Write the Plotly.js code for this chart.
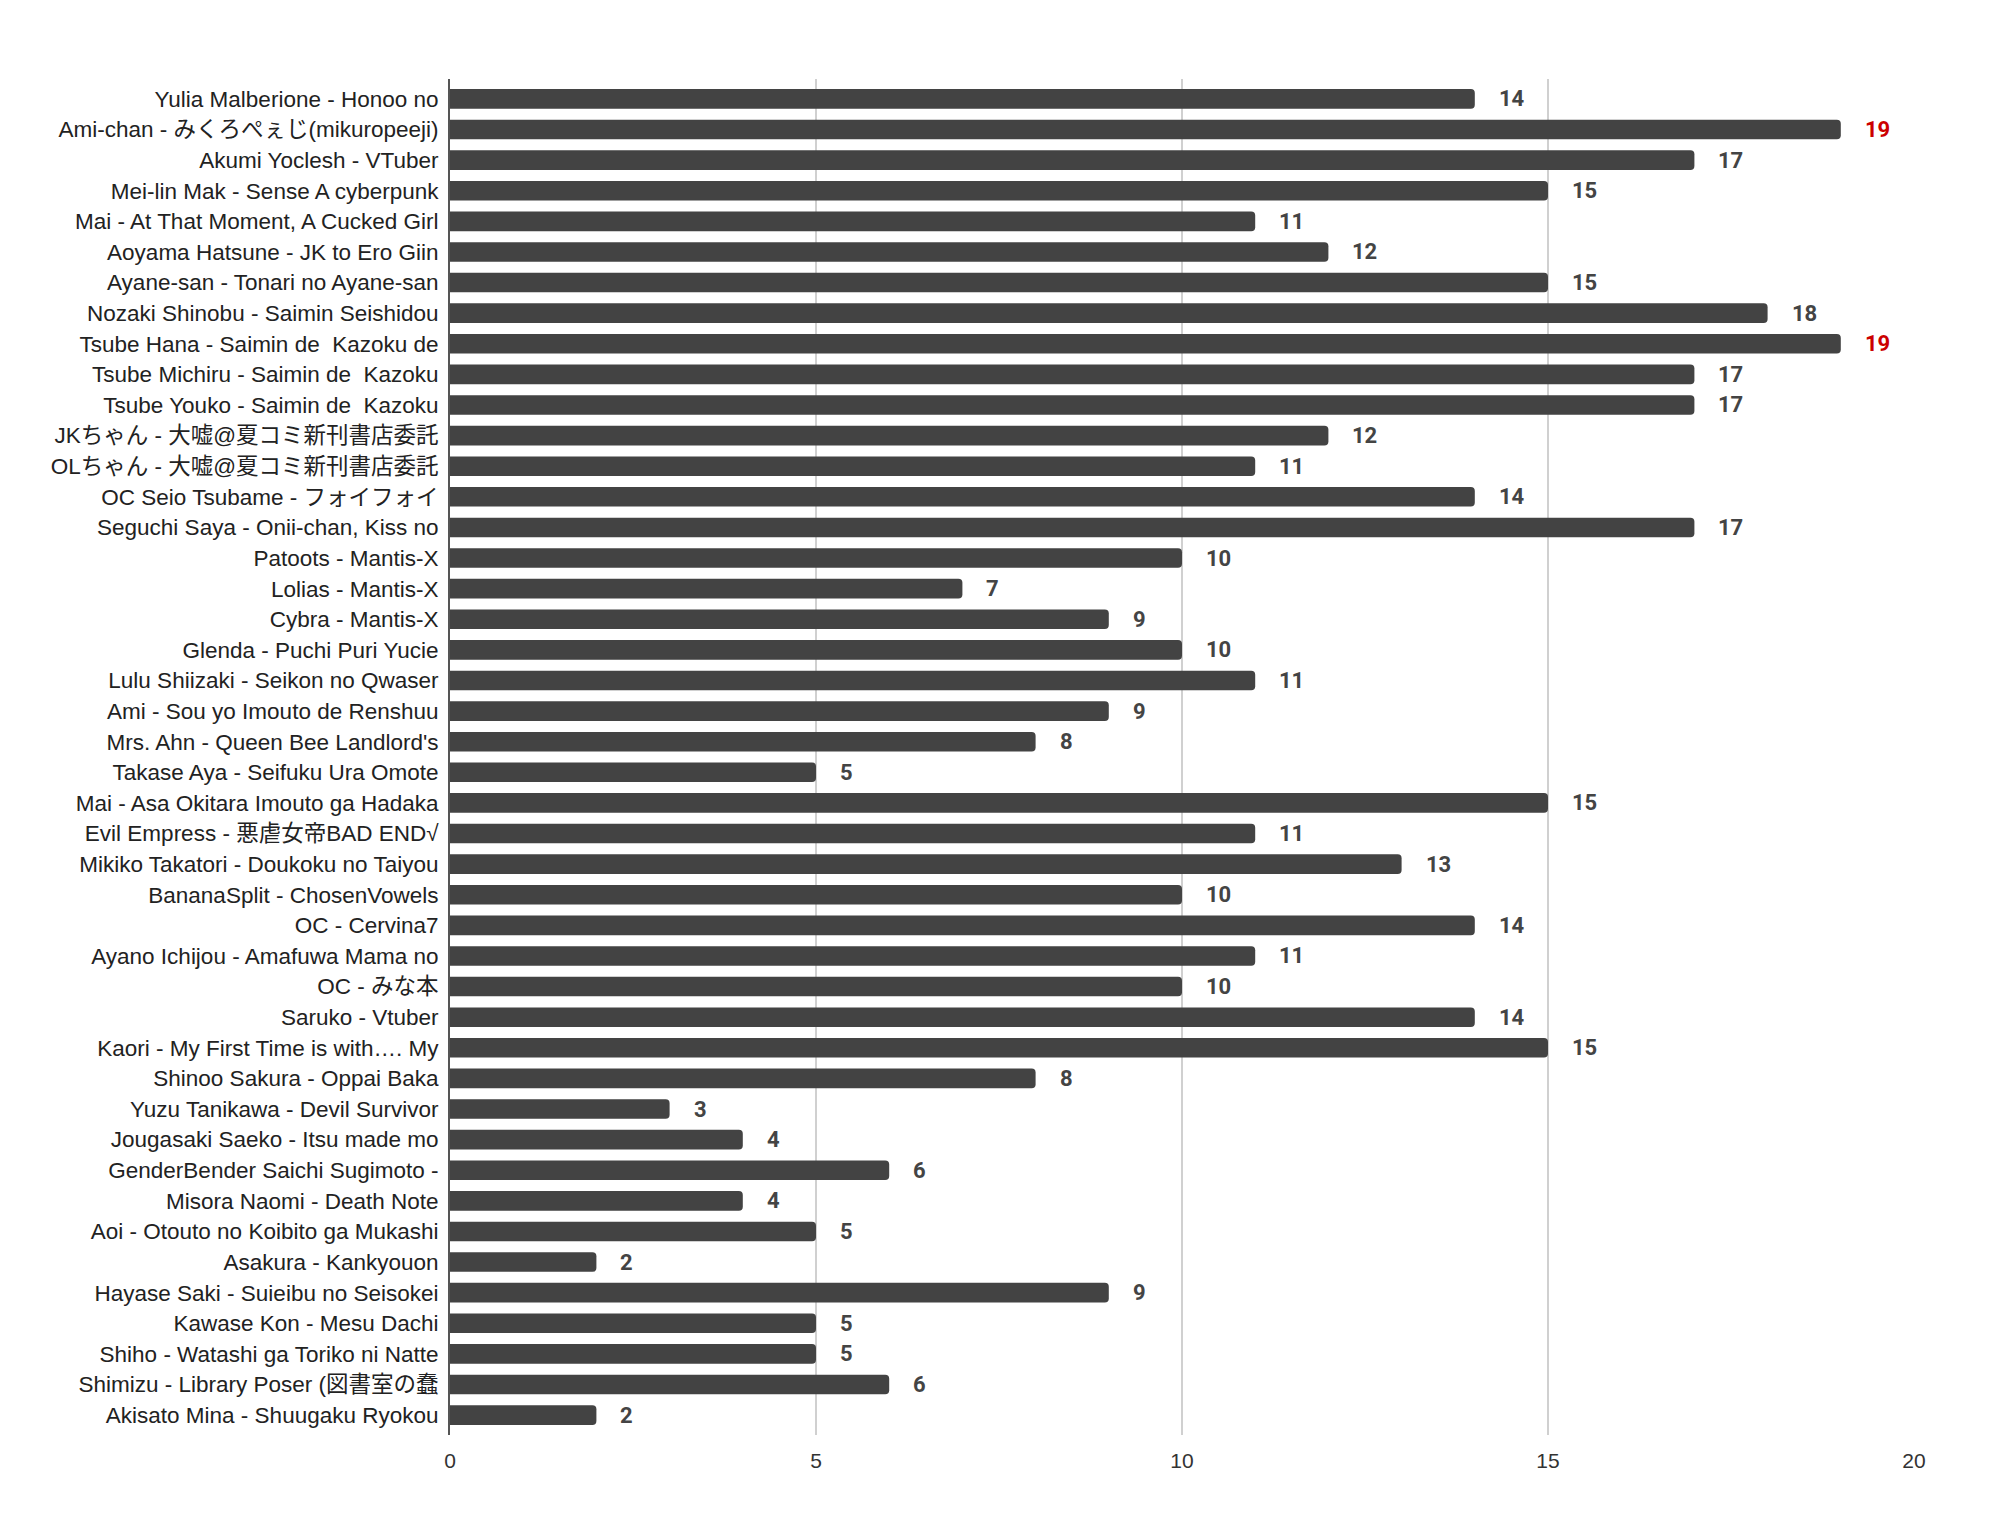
<!DOCTYPE html>
<html>
<head>
<meta charset="utf-8">
<script src="https://cdn.plot.ly/plotly-3.0.1.min.js"></script>
<style>
  html, body { margin: 0; padding: 0; background: #ffffff; }
  #chart { width: 1995px; height: 1531px; }
</style>
</head>
<body>
<div id="chart"></div>
<script>
const categories = [
  "Yulia Malberione - Honoo no",
  "Ami-chan - みくろぺぇじ(mikuropeeji)",
  "Akumi Yoclesh - VTuber",
  "Mei-lin Mak - Sense A cyberpunk",
  "Mai - At That Moment, A Cucked Girl",
  "Aoyama Hatsune - JK to Ero Giin",
  "Ayane-san - Tonari no Ayane-san",
  "Nozaki Shinobu - Saimin Seishidou",
  "Tsube Hana - Saimin de\u00a0 Kazoku de",
  "Tsube Michiru - Saimin de\u00a0 Kazoku",
  "Tsube Youko - Saimin de\u00a0 Kazoku",
  "JKちゃん - 大嘘@夏コミ新刊書店委託",
  "OLちゃん - 大嘘@夏コミ新刊書店委託",
  "OC Seio Tsubame - フォイフォイ",
  "Seguchi Saya - Onii-chan, Kiss no",
  "Patoots - Mantis-X",
  "Lolias - Mantis-X",
  "Cybra - Mantis-X",
  "Glenda - Puchi Puri Yucie",
  "Lulu Shiizaki - Seikon no Qwaser",
  "Ami - Sou yo Imouto de Renshuu",
  "Mrs. Ahn - Queen Bee Landlord's",
  "Takase Aya - Seifuku Ura Omote",
  "Mai - Asa Okitara Imouto ga Hadaka",
  "Evil Empress - 悪虐女帝BAD END√",
  "Mikiko Takatori - Doukoku no Taiyou",
  "BananaSplit - ChosenVowels",
  "OC - Cervina7",
  "Ayano Ichijou - Amafuwa Mama no",
  "OC - みな本",
  "Saruko - Vtuber",
  "Kaori - My First Time is with…. My",
  "Shinoo Sakura - Oppai Baka",
  "Yuzu Tanikawa - Devil Survivor",
  "Jougasaki Saeko - Itsu made mo",
  "GenderBender Saichi Sugimoto -",
  "Misora Naomi - Death Note",
  "Aoi - Otouto no Koibito ga Mukashi",
  "Asakura - Kankyouon",
  "Hayase Saki - Suieibu no Seisokei",
  "Kawase Kon - Mesu Dachi",
  "Shiho - Watashi ga Toriko ni Natte",
  "Shimizu - Library Poser (図書室の蠢",
  "Akisato Mina - Shuugaku Ryokou"
];

const votes = [
  14, 19, 17, 15, 11, 12, 15, 18, 19, 17, 17, 12, 11, 14, 17,
  10, 7, 9, 10, 11, 9, 8, 5, 15, 11, 13, 10, 14, 11, 10,
  14, 15, 8, 3, 4, 6, 4, 5, 2, 9, 5, 5, 6, 2
];

const xTickValues = [0, 5, 10, 15, 20];
const xTickLabels = ["0", "5", "10", "15", "20"];

const barColor = "#434343";
const labelColor = "#444444";
const maxColor = "#cc0000";
const maxVote = Math.max(...votes);

const trace = {
  type: "bar",
  orientation: "h",
  x: votes,
  y: categories,
  width: 0.64,
  marker: { color: barColor, line: { width: 0 } },
  hoverinfo: "x+y"
};

const annotations = votes.map((v, i) => ({
  x: v,
  y: categories[i],
  xref: "x",
  yref: "y",
  text: String(v),
  showarrow: false,
  xanchor: "left",
  yanchor: "middle",
  xshift: 22,
  font: {
    family: "Roboto, 'Liberation Sans', sans-serif",
    size: 22,
    weight: "bold",
    color: v === maxVote ? maxColor : labelColor
  }
}));

const layout = {
  width: 1995,
  height: 1531,
  paper_bgcolor: "#ffffff",
  plot_bgcolor: "#ffffff",
  margin: { l: 450, r: 81, t: 79, b: 96, pad: 0 },
  showlegend: false,
  barcornerradius: 4,
  xaxis: {
    range: [0, 20],
    tickvals: xTickValues,
    ticktext: xTickLabels,
    showgrid: true,
    gridcolor: "#d0d0d0",
    gridwidth: 1.5,
    zeroline: false,
    showline: false,
    ticks: "",
    ticklabelstandoff: 11,
    tickfont: { family: "'Liberation Sans', Arial, sans-serif", size: 21, color: "#333333" }
  },
  yaxis: {
    type: "category",
    range: [43.65, -0.65],
    showgrid: false,
    zeroline: false,
    showline: true,
    linecolor: "#555555",
    linewidth: 2,
    ticks: "",
    ticklabelstandoff: 5,
    tickfont: { family: "'Liberation Sans', Arial, 'Noto Sans CJK JP', sans-serif", size: 22.5, color: "#222222" }
  },
  annotations: annotations
};

Plotly.newPlot("chart", [trace], layout, { displayModeBar: false, staticPlot: true });
</script>
</body>
</html>
